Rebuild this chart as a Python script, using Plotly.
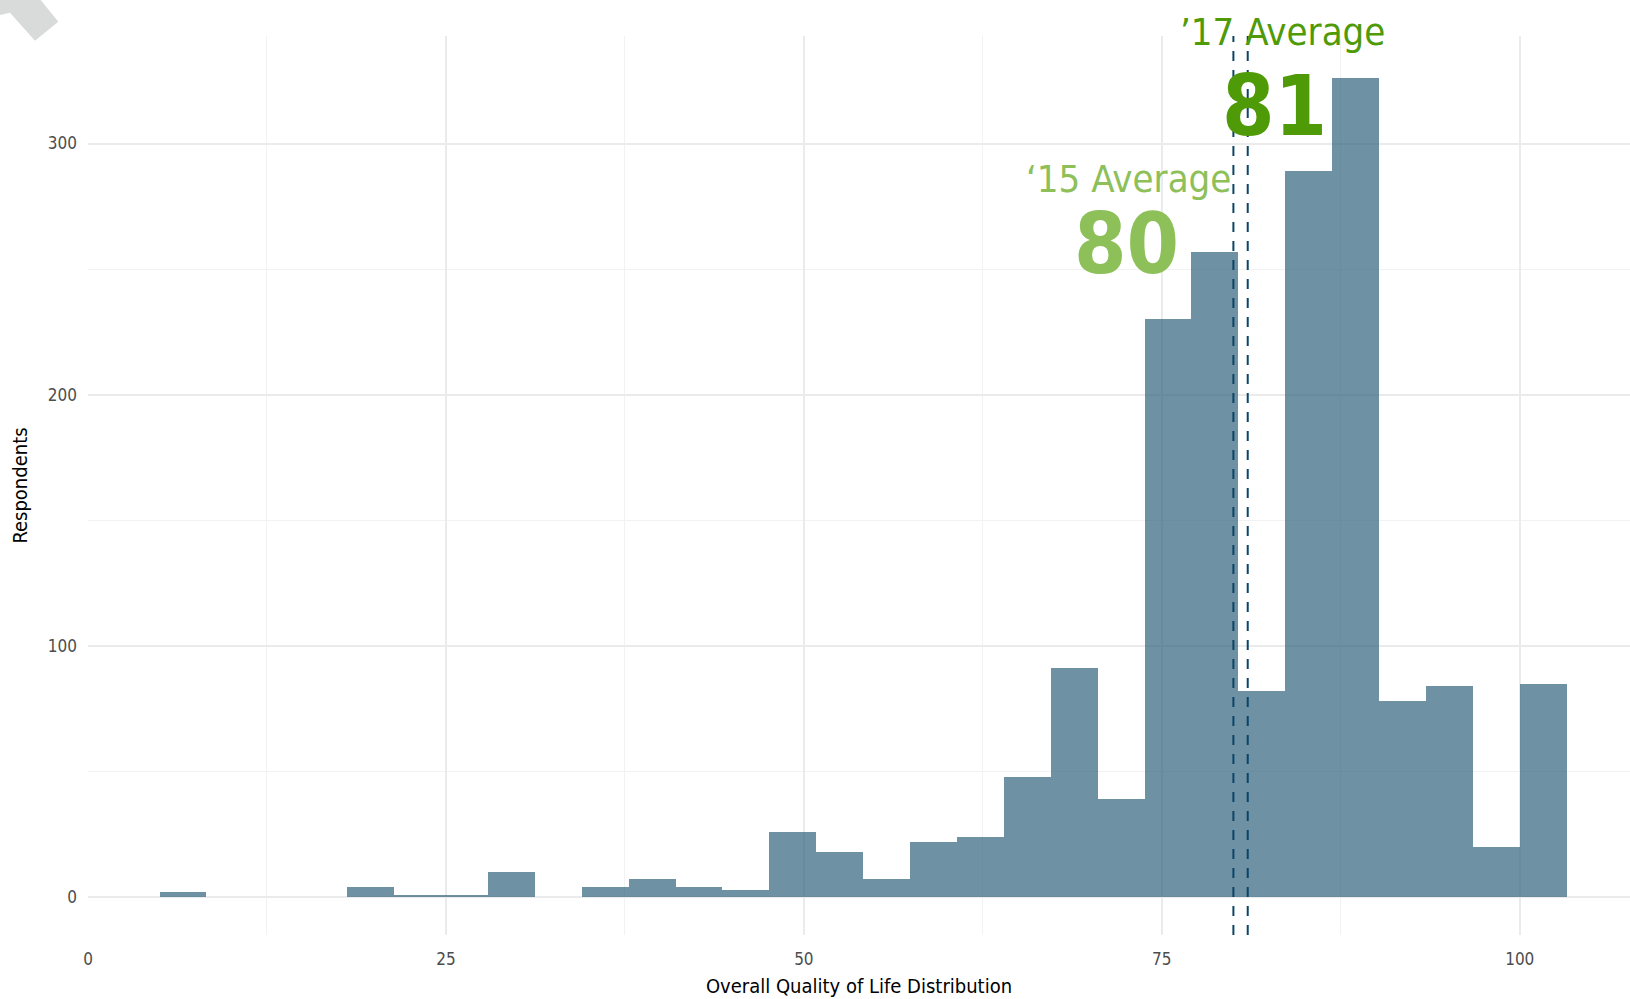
import plotly.graph_objects as go

# ---- data ----
bin_start = 5.0
bin_width = 95.0 / 29.0
counts = [2, 0, 0, 0, 4, 1, 1, 10, 0, 4, 7, 4, 3, 26, 18, 7, 22, 24, 48, 91,
          39, 230, 257, 82, 289, 326, 78, 84, 20, 85]
avg_2015 = 80
avg_2017 = 81
x_ticks = [0, 25, 50, 75, 100]
y_ticks = [0, 100, 200, 300]

centers = [bin_start + bin_width * (i + 0.5) for i in range(len(counts))]

W, H = 1630, 999
L, R, T, B = 88, 0, 36, 64
pw, ph = W - L - R, H - T - B

FONT = "DejaVu Sans Condensed, Liberation Sans Narrow, Roboto, sans-serif"

fig = go.Figure()
fig.add_trace(go.Bar(
    x=centers, y=counts, width=bin_width,
    marker=dict(color="rgba(49,99,126,0.70)", line=dict(width=0)),
    hoverinfo="x+y", showlegend=False,
))

for v in (avg_2015, avg_2017):
    fig.add_shape(type="line", xref="x", yref="paper", x0=v, x1=v, y0=0, y1=1,
                  line=dict(color="#0b4468", width=2, dash="10px,9px"), layer="above")

# watermark corner shape (pixel coords -> paper)
def px(xp): return (xp - L) / pw
def py(yp): return (H - B - yp) / ph
pts = [(0, 0), (40.7, 0), (58.3, 21.7), (35, 40.7), (10, 12.7), (0, 15)]
path = "M " + " L ".join(f"{px(a):.5f},{py(b):.5f}" for a, b in pts) + " Z"
fig.add_shape(type="path", xref="paper", yref="paper", path=path,
              fillcolor="#d9dbda", line=dict(width=0), layer="above")

light_green = "#8dc059"
dark_green = "#4f9a07"
fig.add_annotation(x=83.4, y=py(32), xref="x", yref="paper", yanchor="middle",
                   text="\u201917 Average", showarrow=False,
                   font=dict(family=FONT, size=38, color=dark_green))
fig.add_annotation(x=82.9, y=315, xref="x", yref="y", text="<b>81</b>",
                   showarrow=False, font=dict(family=FONT, size=84, color=dark_green))
fig.add_annotation(x=72.7, y=286, xref="x", yref="y", text="\u201815 Average",
                   showarrow=False, font=dict(family=FONT, size=38, color=light_green))
fig.add_annotation(x=72.5, y=260, xref="x", yref="y", text="<b>80</b>",
                   showarrow=False, font=dict(family=FONT, size=84, color=light_green))

fig.update_layout(
    width=W, height=H,
    margin=dict(l=L, r=R, t=T, b=B),
    paper_bgcolor="white", plot_bgcolor="white",
    bargap=0,
    font=dict(family=FONT),
    xaxis=dict(
        range=[0, 107.7], tickvals=x_ticks, ticktext=[str(t) for t in x_ticks],
        showgrid=True, gridcolor="#ebebeb", gridwidth=1.5,
        minor=dict(tickvals=[12.5, 37.5, 62.5, 87.5], showgrid=True,
                   gridcolor="#f2f2f2", gridwidth=1),
        zeroline=False, showline=False, ticks="", ticklabelstandoff=12,
        tickfont=dict(family=FONT, size=17, color="#4d4d4d"),
        title=dict(text="Overall Quality of Life Distribution",
                   font=dict(family=FONT, size=20, color="black"), standoff=10),
    ),
    yaxis=dict(
        range=[-15.1, 342.8], tickvals=y_ticks, ticktext=[str(t) for t in y_ticks],
        showgrid=True, gridcolor="#ebebeb", gridwidth=1.5,
        minor=dict(tickvals=[50, 150, 250], showgrid=True,
                   gridcolor="#f2f2f2", gridwidth=1),
        zeroline=False, showline=False, ticks="", ticklabelstandoff=10,
        tickfont=dict(family=FONT, size=17, color="#4d4d4d"),
        title=dict(text="Respondents",
                   font=dict(family=FONT, size=20, color="black"), standoff=14),
    ),
)

fig.write_html("out.html", config={"displayModeBar": False},
               post_script="document.body.style.margin='0px';document.body.style.padding='0px';")
